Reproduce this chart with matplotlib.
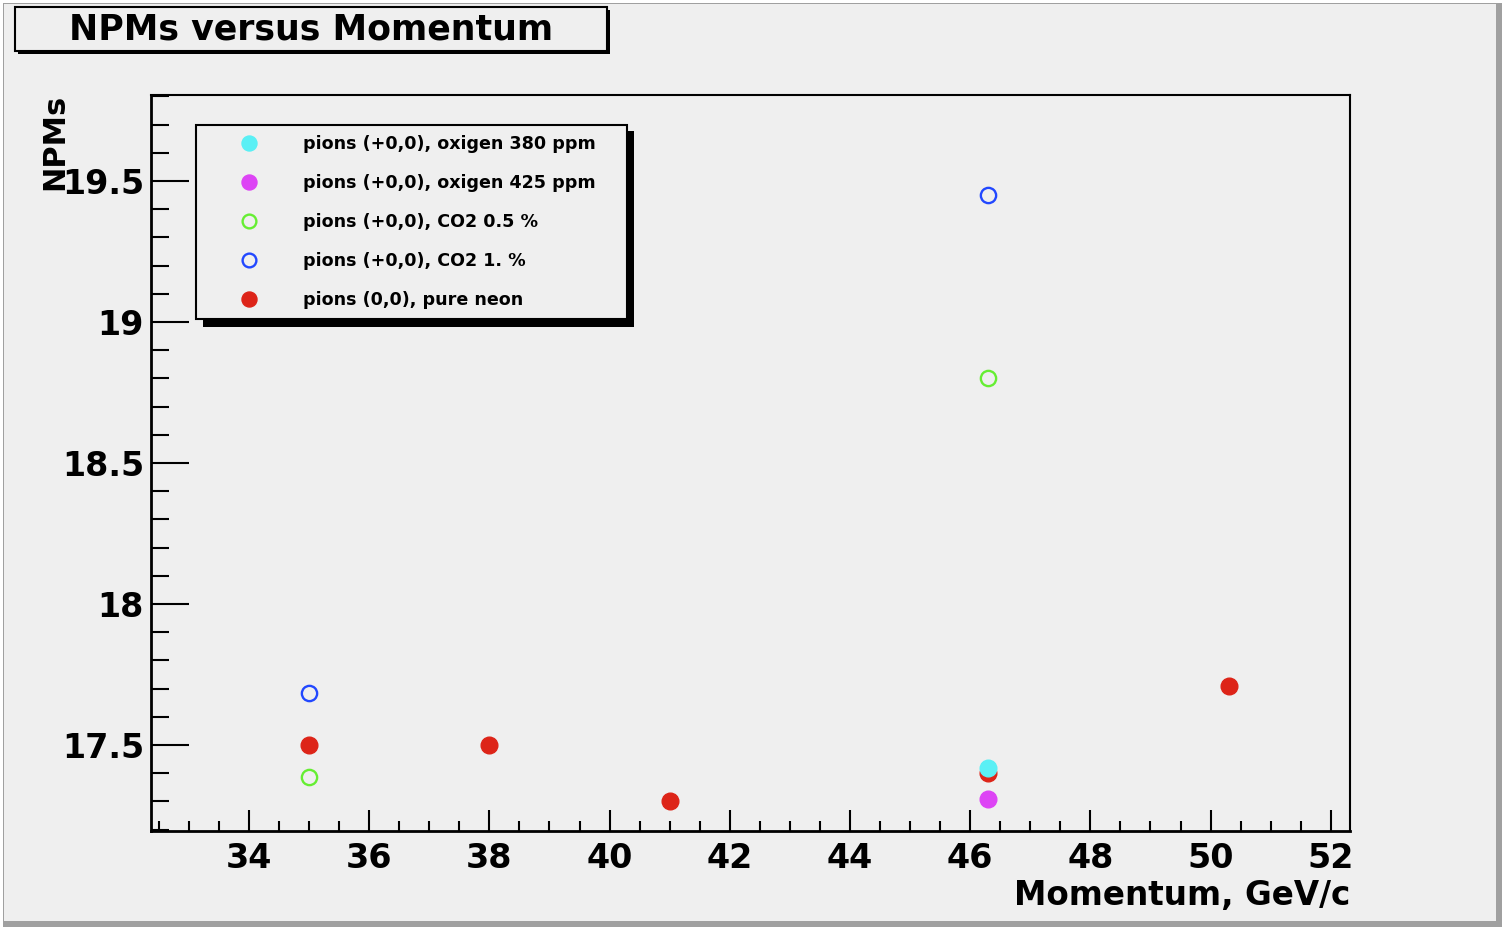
import matplotlib
matplotlib.use("Agg")
from matplotlib import pyplot as plt
from matplotlib.patches import Rectangle
from matplotlib.ticker import MultipleLocator

# NPMs vs beam momentum
p_o2_380 = [46.3]
n_o2_380 = [17.42]
p_o2_425 = [46.3]
n_o2_425 = [17.31]
p_co2_05 = [35.0, 46.3]
n_co2_05 = [17.385, 18.80]
p_co2_1 = [35.0, 46.3]
n_co2_1 = [17.685, 19.45]
p_neon = [35.0, 38.0, 41.0, 46.3, 50.3]
n_neon = [17.50, 17.50, 17.30, 17.40, 17.71]

labels = ["pions (+0,0), oxigen 380 ppm",
          "pions (+0,0), oxigen 425 ppm",
          "pions (+0,0), CO2 0.5 %",
          "pions (+0,0), CO2 1. %",
          "pions (0,0), pure neon"]

bg = '#efefef'
plt.rcParams['font.family'] = ['DejaVu Sans']
plt.rcParams['font.weight'] = 'bold'

W, H = 1502, 927
fig = plt.figure(figsize=(W / 100, H / 100), dpi=100, facecolor='white')

def fx(px):
    return px / W

def fy(py):
    return 1 - py / H

# canvas background with grey frame on the right / bottom
fig.patches.append(Rectangle((fx(3), fy(927)), fx(1499), 924 / H, transform=fig.transFigure,
                             facecolor='#a0a0a0', edgecolor='none', zorder=-3))
fig.patches.append(Rectangle((fx(4), fy(921)), fx(1492), 917 / H, transform=fig.transFigure,
                             facecolor=bg, edgecolor='none', zorder=-2))

ax = fig.add_axes([fx(151), fy(831), fx(1350 - 151), (831 - 95) / H])
ax.set_facecolor(bg)

h1, = ax.plot(p_o2_380, n_o2_380, 'o', color='#5af0f5', ms=12, mec='#5af0f5', zorder=4)
h2, = ax.plot(p_o2_425, n_o2_425, 'o', color='#dd44f5', ms=12, mec='#dd44f5', zorder=4)
h3, = ax.plot(p_co2_05, n_co2_05, 'o', mfc='none', mec='#66ee33', ms=11, mew=1.7)
h4, = ax.plot(p_co2_1, n_co2_1, 'o', mfc='none', mec='#2248ff', ms=11, mew=1.7)
h5, = ax.plot(p_neon, n_neon, 'o', color='#dd2418', ms=12, mec='#dd2418', zorder=3)

ax.set_xlim(32.37, 52.32)
ax.set_ylim(17.195, 19.805)
ax.xaxis.set_major_locator(MultipleLocator(2))
ax.xaxis.set_minor_locator(MultipleLocator(0.5))
ax.yaxis.set_major_locator(MultipleLocator(0.5))
ax.yaxis.set_minor_locator(MultipleLocator(0.1))
ax.tick_params(axis='x', which='major', direction='in', length=15, width=1.5, labelsize=24, pad=8)
ax.tick_params(axis='x', which='minor', direction='in', length=7, width=1.5)
ax.tick_params(axis='y', which='major', direction='in', length=27, width=1.5, labelsize=24, pad=5)
ax.tick_params(axis='y', which='minor', direction='in', length=13, width=1.5)
ax.set_yticks([17.5, 18, 18.5, 19, 19.5])
ax.set_yticklabels(['17.5', '18', '18.5', '19', '19.5'])
for s in ax.spines.values():
    s.set_linewidth(1.5)
ax.spines['left'].set_linewidth(2)
ax.spines['bottom'].set_linewidth(2)

ax.set_xlabel('Momentum, GeV/c', fontsize=23.5, fontweight='bold')
ax.set_ylabel('NPMs', fontsize=22, fontweight='bold')
ax.xaxis.set_label_coords(1.0, -0.065)
ax.xaxis.label.set_ha('right')
ax.yaxis.set_label_coords((55 - 151) / 1199, (831 - 142) / 736)
ax.yaxis.label.set_va('center')
ax.yaxis.label.set_ha('center')

# legend box with drop shadow
fig.patches.append(Rectangle((fx(203), fy(327)), fx(431), 196 / H, transform=fig.transFigure,
                             facecolor='black', edgecolor='none', zorder=5))
leg = fig.legend([h1, h2, h3, h4, h5], labels, loc='upper left',
                 bbox_to_anchor=(fx(196), fy(321), fx(431), 196 / H),
                 bbox_transform=fig.transFigure, mode='expand',
                 frameon=True, fancybox=False, fontsize=12.6, handletextpad=0.62, labelspacing=1.2,
                 borderpad=0.58, handlelength=4.9, markerscale=0.9, borderaxespad=0,
                 facecolor=bg, edgecolor='black', framealpha=1)
leg.set_zorder(6)
leg.get_frame().set_linewidth(1.5)

# title box with drop shadow
fig.patches.append(Rectangle((fx(18), fy(54)), fx(592), 44 / H, transform=fig.transFigure,
                             facecolor='black', edgecolor='none', zorder=1))
fig.patches.append(Rectangle((fx(15), fy(51)), fx(592), 44 / H, transform=fig.transFigure,
                             facecolor=bg, edgecolor='black', linewidth=1.5, zorder=2))
fig.text(fx(311), fy(30), 'NPMs versus Momentum', ha='center', va='center',
         fontsize=25, fontweight='bold', zorder=3)

fig.savefig('out.png', dpi=100, facecolor='white')
